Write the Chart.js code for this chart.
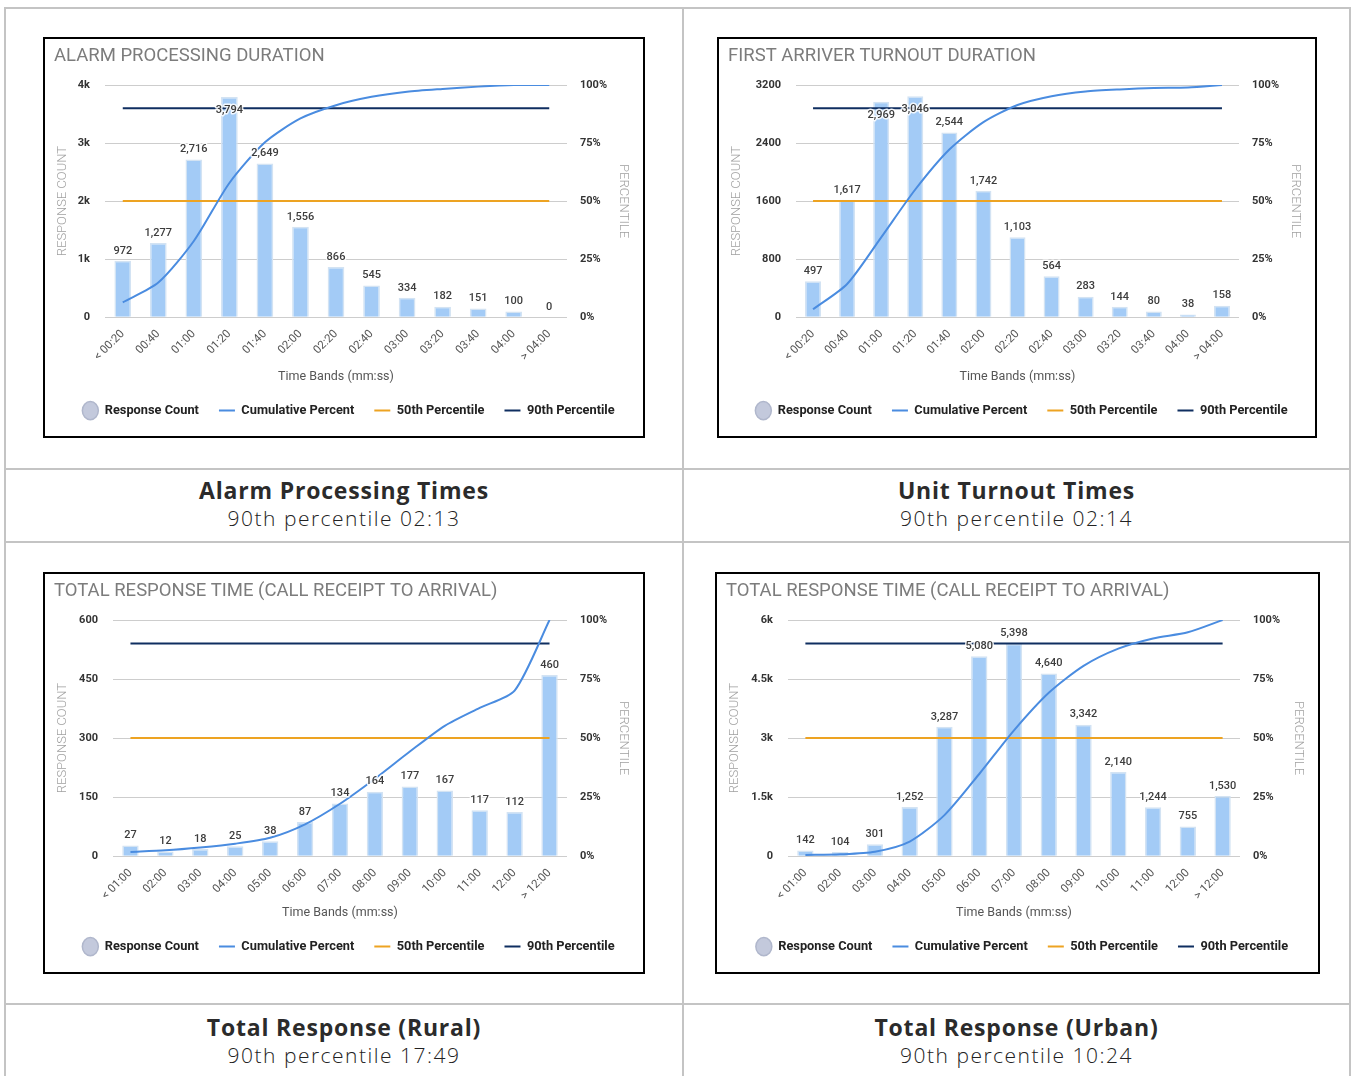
<!DOCTYPE html>
<html>
<head>
<meta charset="utf-8">
<script src="https://cdn.jsdelivr.net/npm/chart.js"></script>
<style>
  html, body { margin: 0; padding: 0; background: #fff; }
  body { width: 1351px; height: 1076px; position: relative; overflow: hidden; }
  .rule { position: absolute; background: #c4c4c4; }
  .box { position: absolute; border: 2px solid #000; box-sizing: border-box; background: #fff; }
  .box canvas { display: block; }
  .cap { position: absolute; text-align: center; color: #2b2b2b; }
  .cap-title { font: 700 23px "Open Sans", sans-serif; line-height: 28px; letter-spacing: 0.8px; }
  .cap-sub { font: 300 21px "Open Sans", sans-serif; line-height: 28px; letter-spacing: 1.5px; color: #222; }
</style>
</head>
<body>
<!-- table rules -->
<div class="rule" style="left:4px;top:7px;width:1347px;height:2px"></div>
<div class="rule" style="left:4px;top:468px;width:1347px;height:2px"></div>
<div class="rule" style="left:4px;top:541px;width:1347px;height:2px"></div>
<div class="rule" style="left:4px;top:1003px;width:1347px;height:2px"></div>
<div class="rule" style="left:4px;top:7px;width:2px;height:1069px"></div>
<div class="rule" style="left:682px;top:7px;width:2px;height:1069px"></div>
<div class="rule" style="left:1349px;top:7px;width:2px;height:1069px"></div>

<div class="box" style="left:43px;top:37px;width:602px;height:401px"><canvas id="alarmChart" width="598" height="397"></canvas></div>
<div class="box" style="left:717px;top:37px;width:600px;height:401px"><canvas id="turnoutChart" width="596" height="397"></canvas></div>
<div class="box" style="left:43px;top:572px;width:602px;height:402px"><canvas id="ruralChart" width="598" height="398"></canvas></div>
<div class="box" style="left:715px;top:572px;width:605px;height:402px"><canvas id="urbanChart" width="601" height="398"></canvas></div>

<div class="cap" style="left:6px;top:476px;width:676px">
  <div class="cap-title">Alarm Processing Times</div>
  <div class="cap-sub">90th percentile 02:13</div>
</div>
<div class="cap" style="left:684px;top:476px;width:665px">
  <div class="cap-title">Unit Turnout Times</div>
  <div class="cap-sub">90th percentile 02:14</div>
</div>
<div class="cap" style="left:6px;top:1013px;width:676px">
  <div class="cap-title">Total Response (Rural)</div>
  <div class="cap-sub">90th percentile 17:49</div>
</div>
<div class="cap" style="left:684px;top:1013px;width:665px">
  <div class="cap-title">Total Response (Urban)</div>
  <div class="cap-sub">90th percentile 10:24</div>
</div>

<script>
// time bands
const shortBands = ['< 00:20', '00:40', '01:00', '01:20', '01:40', '02:00', '02:20',
                    '02:40', '03:00', '03:20', '03:40', '04:00', '> 04:00'];
const longBands = ['< 01:00', '02:00', '03:00', '04:00', '05:00', '06:00', '07:00',
                   '08:00', '09:00', '10:00', '11:00', '12:00', '> 12:00'];

// alarm processing
const alarmCounts = [972, 1277, 2716, 3794, 2649, 1556, 866, 545, 334, 182, 151, 100, 0];
const alarmCumulative = [6.4, 14.9, 32.8, 57.8, 75.3, 85.6, 91.3, 94.9, 97.1, 98.3, 99.3, 100, 100];
const alarmCountTicks = ['0', '1k', '2k', '3k', '4k'];

// first arriver turnout
const turnoutCounts = [497, 1617, 2969, 3046, 2544, 1742, 1103, 564, 283, 144, 80, 38, 158];
const turnoutCumulative = [3.4, 14.3, 34.4, 55.0, 72.2, 84.0, 91.4, 95.2, 97.2, 98.1, 98.7, 98.9, 100];
const turnoutCountTicks = ['0', '800', '1600', '2400', '3200'];

// total response, rural
const ruralCounts = [27, 12, 18, 25, 38, 87, 134, 164, 177, 167, 117, 112, 460];
const ruralCumulative = [1.8, 2.5, 3.7, 5.3, 7.8, 13.5, 22.2, 32.8, 44.3, 55.2, 62.8, 70.1, 100];
const ruralCountTicks = ['0', '150', '300', '450', '600'];

// total response, urban
const urbanCounts = [142, 104, 301, 1252, 3287, 5080, 5398, 4640, 3342, 2140, 1244, 755, 1530];
const urbanCumulative = [0.5, 0.8, 1.9, 6.2, 17.4, 34.8, 53.3, 69.2, 80.6, 87.9, 92.2, 94.8, 100];
const urbanCountTicks = ['0', '1.5k', '3k', '4.5k', '6k'];

const percentTicks = ['0%', '25%', '50%', '75%', '100%'];
const percentileMarks = [50, 90];

Chart.defaults.font.family = 'Roboto, sans-serif';

// count labels over the bars; tall bars get their label tucked inside the top
const barValueLabels = {
    id: 'barValueLabels',
    afterDatasetsDraw(chart) {
        const { ctx, chartArea } = chart;
        const meta = chart.getDatasetMeta(0);
        const values = chart.data.datasets[0].data;
        ctx.save();
        ctx.font = '500 11px Roboto, sans-serif';
        ctx.textAlign = 'center';
        ctx.textBaseline = 'middle';
        ctx.lineJoin = 'round';
        meta.data.forEach((bar, i) => {
            const text = values[i].toLocaleString('en-US');
            const y = (bar.y - chartArea.top < 20) ? bar.y + 13 : bar.y - 10;
            ctx.lineWidth = 3;
            ctx.strokeStyle = 'rgba(255,255,255,0.85)';
            ctx.strokeText(text, bar.x, y);
            ctx.fillStyle = '#3d3d3d';
            ctx.fillText(text, bar.x, y);
        });
        ctx.restore();
    }
};

function flatLine(bands, value) {
    return [{ x: bands[0], y: value }, { x: bands[bands.length - 1], y: value }];
}

function makeChart(id, opts) {
    const el = document.getElementById(id);
    return new Chart(el, {
        type: 'bar',
        data: {
            labels: opts.bands,
            datasets: [{
                type: 'bar',
                label: 'Response Count',
                data: opts.counts,
                yAxisID: 'y',
                backgroundColor: '#a3cbf6',
                borderColor: '#d3e3f3',
                borderWidth: 1.5,
                barPercentage: 0.47,
                categoryPercentage: 1,
                order: 4
            }, {
                type: 'line',
                label: 'Cumulative Percent',
                data: opts.cumulative,
                yAxisID: 'pct',
                borderColor: '#4a8ce0',
                borderWidth: 2,
                pointRadius: 0,
                tension: 0.25,
                order: 1
            }, {
                type: 'line',
                label: '50th Percentile',
                data: flatLine(opts.bands, percentileMarks[0]),
                yAxisID: 'pct',
                borderColor: '#eda322',
                borderWidth: 2,
                pointRadius: 0,
                order: 3
            }, {
                type: 'line',
                label: '90th Percentile',
                data: flatLine(opts.bands, percentileMarks[1]),
                yAxisID: 'pct',
                borderColor: '#0f2e60',
                borderWidth: 2,
                pointRadius: 0,
                order: 2
            }]
        },
        options: {
            responsive: false,
            animation: false,
            layout: { padding: { left: 9, right: 0, top: 0, bottom: 9 } },
            plugins: {
                title: {
                    display: true,
                    text: opts.title,
                    align: 'start',
                    color: '#7c7c7c',
                    font: { size: 18.5, weight: '400' },
                    padding: { top: 6, bottom: 17.8 }
                },
                legend: {
                    position: 'bottom',
                    labels: {
                        usePointStyle: true,
                        pointStyleWidth: 16,
                        padding: 20,
                        color: '#222',
                        font: { size: 12.8, weight: 'bold' },
                        sort: (a, b) => a.datasetIndex - b.datasetIndex,
                        generateLabels(chart) {
                            const items = Chart.defaults.plugins.legend.labels.generateLabels(chart);
                            items.forEach(it => {
                                if (it.datasetIndex === 0) {
                                    it.pointStyle = 'circle';
                                    it.fillStyle = '#c3c9dc';
                                    it.strokeStyle = '#b0b7cc';
                                } else {
                                    it.pointStyle = 'line';
                                }
                            });
                            return items;
                        }
                    }
                },
                tooltip: { enabled: false }
            },
            scales: {
                x: {
                    grid: { display: false },
                    border: { display: false },
                    ticks: {
                        autoSkip: false,
                        minRotation: 45,
                        maxRotation: 45,
                        padding: 2,
                        color: '#555',
                        font: { size: 11.5 }
                    },
                    title: {
                        display: true,
                        text: 'Time Bands (mm:ss)',
                        color: '#555',
                        font: { size: 12.5 },
                        padding: { top: 0, bottom: 0 }
                    },
                    afterFit: s => { s.height = opts.xHeight; }
                },
                y: {
                    position: 'left',
                    min: 0,
                    max: opts.countMax,
                    grid: { color: '#cdcdcd', drawTicks: false },
                    border: { display: false },
                    ticks: {
                        stepSize: opts.countMax / 4,
                        padding: 15,
                        color: '#333',
                        font: { size: 11, weight: 'bold' },
                        callback: (v, i) => opts.countTicks[i]
                    },
                    title: {
                        display: true,
                        text: 'RESPONSE COUNT',
                        color: '#a0a0a0',
                        font: { size: 13, weight: '300' },
                        padding: { top: 1, bottom: 0 }
                    },
                    afterFit: s => { s.width = opts.leftWidth; }
                },
                pct: {
                    position: 'right',
                    min: 0,
                    max: 100,
                    grid: { display: false, drawTicks: false },
                    border: { display: false },
                    ticks: {
                        stepSize: 25,
                        padding: 13,
                        color: '#333',
                        font: { size: 11, weight: 'bold' },
                        callback: (v, i) => percentTicks[i]
                    },
                    title: {
                        display: true,
                        text: 'PERCENTILE',
                        color: '#a0a0a0',
                        font: { size: 13, weight: '300' },
                        padding: { top: 12, bottom: 0 }
                    },
                    afterFit: s => { s.width = opts.rightWidth; }
                }
            }
        },
        plugins: [barValueLabels]
    });
}

makeChart('alarmChart', {
    title: 'ALARM PROCESSING DURATION',
    bands: shortBands, counts: alarmCounts, cumulative: alarmCumulative,
    countTicks: alarmCountTicks, countMax: 4000,
    leftWidth: 51, rightWidth: 76, xHeight: 67
});
makeChart('turnoutChart', {
    title: 'FIRST ARRIVER TURNOUT DURATION',
    bands: shortBands, counts: turnoutCounts, cumulative: turnoutCumulative,
    countTicks: turnoutCountTicks, countMax: 3200,
    leftWidth: 68, rightWidth: 76, xHeight: 67
});
makeChart('ruralChart', {
    title: 'TOTAL RESPONSE TIME (CALL RECEIPT TO ARRIVAL)',
    bands: longBands, counts: ruralCounts, cumulative: ruralCumulative,
    countTicks: ruralCountTicks, countMax: 600,
    leftWidth: 59, rightWidth: 76, xHeight: 64
});
makeChart('urbanChart', {
    title: 'TOTAL RESPONSE TIME (CALL RECEIPT TO ARRIVAL)',
    bands: longBands, counts: urbanCounts, cumulative: urbanCumulative,
    countTicks: urbanCountTicks, countMax: 6000,
    leftWidth: 62, rightWidth: 78, xHeight: 64
});
</script>
</body>
</html>
